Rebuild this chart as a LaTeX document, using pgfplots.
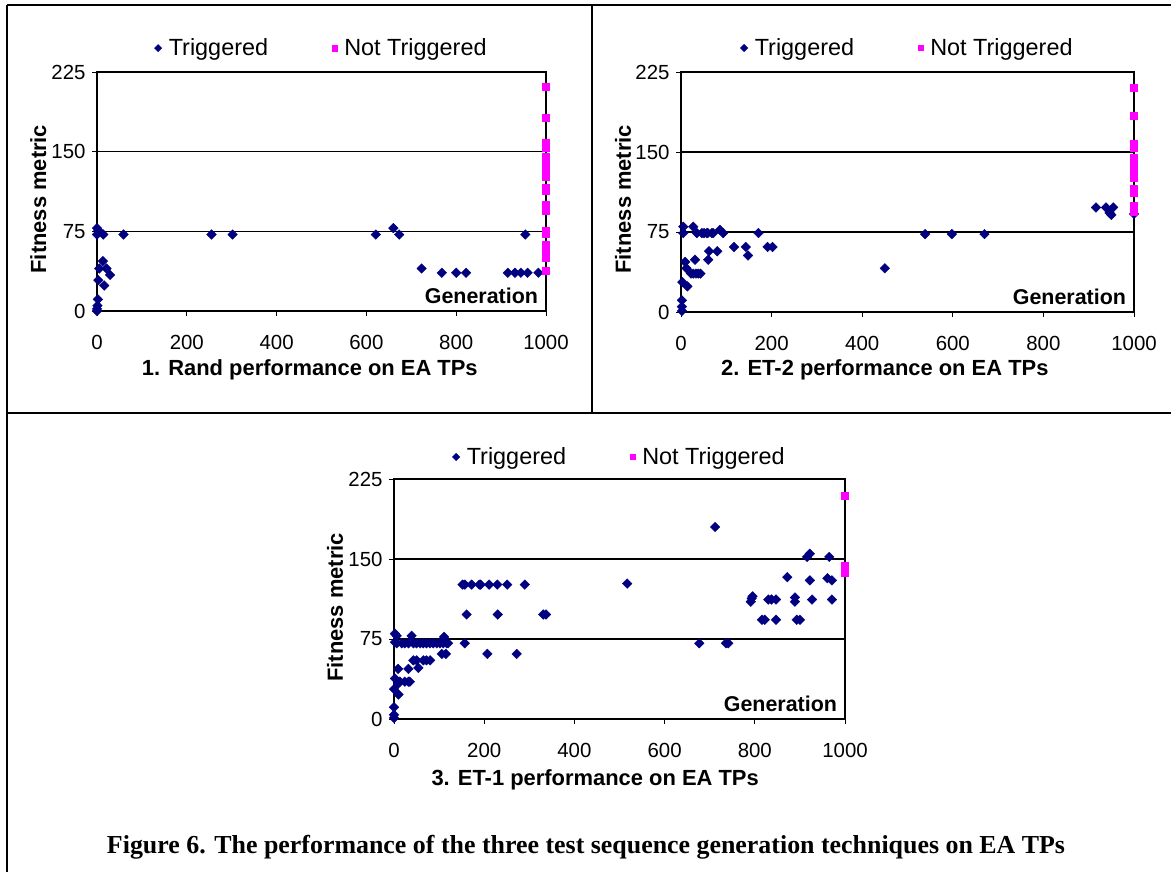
\documentclass[border=0pt]{standalone}
\usepackage{fontspec}
\setmainfont{Liberation Sans}
\newfontfamily\capfont{Liberation Serif}
\usepackage{pgfplots}
\pgfplotsset{compat=1.18}
\definecolor{trig}{HTML}{000080}
\definecolor{ntrig}{HTML}{FF00FF}

\pgfplotsset{
  fitax/.style={
    scale only axis,
    xmin=0,xmax=1000,ymin=0,ymax=225,
    xtick={0,200,...,1000},ytick={0,75,150,225},
    /pgf/number format/1000 sep={},
    /pgf/number format/assume math mode=true,
    ymajorgrids,grid style={black,line width=1.1bp},
    axis line style={black,line width=1.3bp},
    tick style={black,line width=1bp},
    tick align=outside,major tick length=5bp,
    xtick pos=bottom,ytick pos=left,
    clip=false,
    ticklabel style={font=\fontsize{20.5}{24}\selectfont},
    xticklabel style={yshift=-16bp},
    yticklabel style={xshift=-3bp},
    label style={font=\bfseries\fontsize{22}{26}\selectfont},
    ylabel style={anchor=center,rotate=0},
    xlabel style={anchor=center},
    legend columns=2,
    legend style={draw=none,fill=none,anchor=center,
      font=\fontsize{23.5}{28}\selectfont,
      /tikz/every odd column/.append style={column sep=5bp},
      /tikz/every even column/.append style={column sep=62bp}},
    legend image code/.code={\draw[mark repeat=2,mark phase=2,#1,mark size=2.6bp] plot coordinates {(0bp,0bp) (5bp,0bp) (10bp,0bp)};},
  },
  trigm/.style={only marks,mark=square*,color=trig,mark size=3.4bp,mark options={rotate=45,fill=trig,draw=trig}},
  ntrigm/.style={only marks,mark=square*,color=ntrig,mark size=3.5bp,mark options={fill=ntrig,draw=ntrig}},
}
\newcommand{\gen}{\node[anchor=base east,font=\bfseries\fontsize{21.5}{26}\selectfont] at (rel axis cs:0.99,0.03) {Generation};}

\begin{document}
\begin{tikzpicture}
\useasboundingbox (0bp,0bp) rectangle (1171bp,-872bp);
% frame
\draw[line width=2bp] (7bp,-5bp) -- (1171bp,-5bp);
\draw[line width=2bp] (7bp,-5bp) -- (7bp,-872bp);
\draw[line width=2bp] (592bp,-5bp) -- (592bp,-413bp);
\draw[line width=2bp] (7bp,-413bp) -- (1171bp,-413bp);

% 1. Rand
\begin{axis}[fitax,at={(97bp,-311bp)},anchor=south west,width=449bp,height=239bp,
  xlabel={1. Rand performance on EA TPs},
  xlabel style={at={(axis description cs:0.474,-0.247)}},
  ylabel={Fitness metric},
  ylabel style={at={(axis description cs:-0.131,0.468)}},
  legend style={at={(axis description cs:0.5,1.10)}}]
\addplot[trigm] coordinates {
(0,78) (3,76) (0,72) (14,72) (59,72) (255,72) (302,72) (13,47) (5,40) (21,40)
(29,34) (3,29) (16,24) (2,11) (1,5) (0,2) (0,0)
(621,72) (660,78) (673,72) (723,40) (768,36) (800,36) (822,36) (915,36)
(931,36) (944,36) (959,36) (983,36) (954,72)};
\addlegendentry{Triggered}
\addplot[ntrigm] coordinates {
(1000,211) (1000,182) (1000,158) (1000,154) (1000,145) (1000,141) (1000,137)
(1000,133) (1000,129) (1000,126) (1000,116) (1000,113) (1000,100) (1000,97)
(1000,94) (1000,76) (1000,73) (1000,62) (1000,58) (1000,54) (1000,50)
(1000,38)};
\addlegendentry{Not Triggered}
\gen
\end{axis}

% 2. ET-2
\begin{axis}[fitax,at={(681bp,-312bp)},anchor=south west,width=453bp,height=240bp,
  xlabel={2. ET-2 performance on EA TPs},
  xlabel style={at={(axis description cs:0.45,-0.242)}},
  ylabel={Fitness metric},
  ylabel style={at={(axis description cs:-0.128,0.47)}},
  legend style={at={(axis description cs:0.5,1.10)}}]
\addplot[trigm] coordinates {
(5,80) (5,74) (27,80) (35,74) (46,74) (57,74) (68,74) (51,74) (59,74) (71,74)
(86,77) (93,74) (171,74) (117,61) (143,61) (148,53) (191,61) (202,61) (62,57)
(60,49) (80,57) (31,49) (9,47) (12,41) (22,36) (27,36) (33,36) (38,36) (43,36)
(3,28) (14,24) (2,11) (2,5) (2,1) (450,41) (539,73) (598,73) (670,73)
(916,98) (938,98) (954,98) (946,93) (950,91) (1000,92)};
\addlegendentry{Triggered}
\addplot[ntrigm] coordinates {
(1000,210) (1000,184) (1000,158) (1000,154) (1000,145) (1000,141) (1000,137)
(1000,133) (1000,129) (1000,126) (1000,116) (1000,112) (1000,100) (1000,97)
(1000,94)};
\addlegendentry{Not Triggered}
\gen
\end{axis}

% 3. ET-1
\begin{axis}[fitax,at={(394bp,-719bp)},anchor=south west,width=451bp,height=240bp,
  xlabel={3. ET-1 performance on EA TPs},
  xlabel style={at={(axis description cs:0.446,-0.254)}},
  ylabel={Fitness metric},
  ylabel style={at={(axis description cs:-0.131,0.465)}},
  legend style={at={(axis description cs:0.5,1.092)}}]
\addplot[trigm] coordinates {
(2,80) (6,78) (2,72) (6,71) (17,71) (24,71) (32,71) (43,71) (50,71) (58,71)
(65,71) (72,71) (80,71) (87,71) (95,71) (102,71) (109,71) (117,71) (120,71)
(39,78) (111,77) (106,61) (115,61) (32,47) (43,55) (50,55) (54,48) (65,55)
(72,55) (80,55) (9,47) (2,38) (13,35) (24,35) (32,35) (35,35) (9,33) (0,28)
(10,23) (0,11) (0,4) (0,1)
(152,126) (157,126) (172,126) (189,126) (192,126) (211,126) (229,126)
(251,126) (290,126) (161,98) (230,98) (331,98) (337,98) (157,71) (207,61)
(272,61)
(517,127) (712,180) (677,71) (736,71) (741,71) (793,113) (791,110) (795,115)
(830,112) (837,112) (847,112) (816,93) (822,93) (847,93) (889,114) (889,110)
(893,93) (900,93) (872,133) (922,130) (927,112) (916,152) (922,155) (965,152)
(961,132) (971,130) (971,112)};
\addlegendentry{Triggered}
\addplot[ntrigm] coordinates {(1000,209) (1000,144) (1000,140) (1000,137)};
\addlegendentry{Not Triggered}
\gen
\end{axis}

\node[font=\capfont\bfseries\fontsize{26}{30}\selectfont,anchor=base] at (586bp,-853bp)
  {Figure 6. The performance of the three test sequence generation techniques on EA TPs};
\end{tikzpicture}
\end{document}
